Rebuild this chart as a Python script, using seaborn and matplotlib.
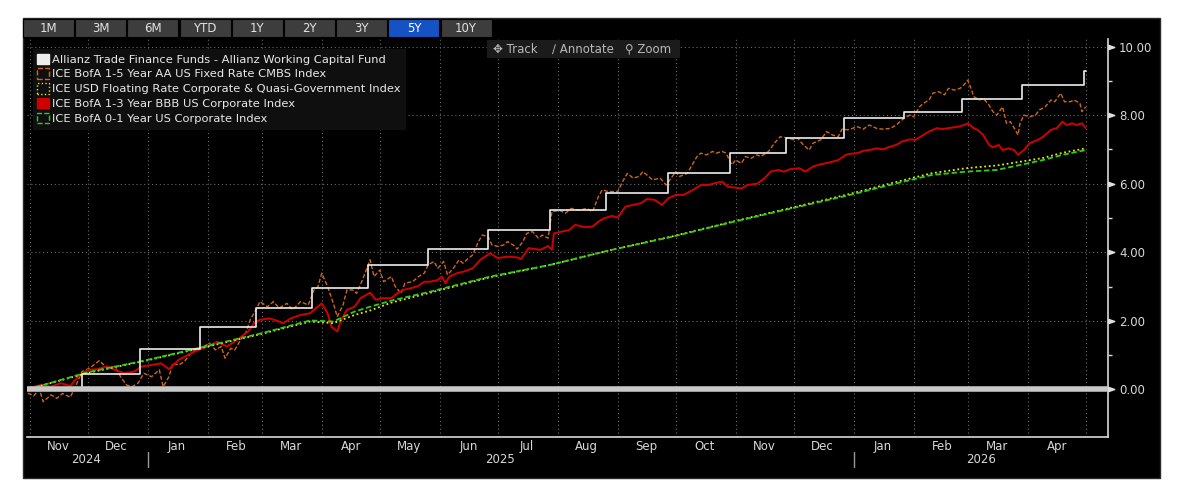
import numpy as np
import pandas as pd
import matplotlib
matplotlib.use("Agg")
import matplotlib.pyplot as plt
import matplotlib.dates as mdates
from matplotlib.path import Path
from matplotlib.patches import Patch, Rectangle
from matplotlib import font_manager
import seaborn as sns

# -------------------------------
# Data (cumulative total return, %), day offsets counted from 2024-11-01
start = pd.Timestamp("2024-11-01")

fund_days = [-1, 27, 57, 88, 117, 146, 175, 206, 237, 269,
             298, 330, 362, 391, 421, 452, 482, 513, 545, 546]
fund_vals = [0.00, 0.45, 1.17, 1.81, 2.38, 2.96, 3.64, 4.10, 4.64, 5.22,
             5.73, 6.30, 6.88, 7.33, 7.91, 8.08, 8.47, 8.88, 9.29, 9.29]

cmbs_days = [-1, 2, 5, 7, 11, 14, 17, 21, 24, 27,
             31, 36, 40, 44, 47, 50, 53, 56, 59, 63,
             67, 69, 72, 74, 77, 80, 82, 85, 90, 93,
             96, 99, 101, 104, 106, 109, 112, 114, 117, 119,
             123, 126, 129, 133, 136, 140, 144, 147, 149, 151,
             154, 157, 159, 162, 164, 167, 169, 172, 176, 178,
             181, 183, 187, 189, 192, 194, 198, 201, 204, 206,
             209, 211, 214, 216, 219, 222, 224, 227, 229, 232,
             234, 237, 239, 242, 245, 247, 250, 252, 255, 257,
             260, 263, 265, 268, 270, 274, 277, 280, 284, 288,
             291, 294, 296, 299, 304, 307, 309, 312, 315, 317,
             320, 322, 326, 329, 331, 334, 336, 340, 342, 345,
             347, 350, 353, 355, 358, 360, 363, 365, 368, 370,
             373, 376, 378, 382, 385, 388, 392, 395, 397, 400,
             403, 405, 409, 412, 415, 418, 420, 423, 428, 431,
             434, 438, 441, 445, 448, 451, 455, 457, 460, 462,
             465, 467, 470, 473, 475, 478, 481, 483, 485, 487,
             488, 491, 493, 496, 498, 500, 503, 505, 507, 509,
             511, 512, 514, 517, 520, 522, 525, 528, 530, 533,
             535, 538, 540, 543, 544, 546]
cmbs_vals = [-0.11, -0.19, 0.00, -0.36, -0.16, -0.26, -0.12, -0.23, 0.13, 0.52,
             0.62, 0.84, 0.62, 0.67, 0.37, 0.13, 0.08, 0.18, 0.47, 0.37,
             0.57, 0.08, 0.37, 0.76, 0.71, 0.81, 0.96, 1.15, 1.25, 1.35,
             1.15, 1.25, 0.91, 1.20, 1.15, 1.44, 1.69, 2.03, 2.32, 2.56,
             2.41, 2.56, 2.37, 2.51, 2.32, 2.56, 2.46, 2.90, 2.99, 3.39,
             3.00, 2.51, 2.12, 2.46, 2.90, 2.90, 2.80, 3.19, 3.78, 3.29,
             3.48, 3.14, 3.29, 3.00, 2.80, 3.10, 3.14, 3.29, 3.39, 3.63,
             3.73, 3.53, 3.73, 3.34, 3.53, 3.78, 3.68, 3.83, 3.92, 4.31,
             4.50, 4.46, 4.21, 4.17, 4.21, 4.31, 4.21, 4.09, 4.31, 4.55,
             4.60, 4.41, 4.50, 4.41, 5.18, 5.22, 5.14, 5.28, 5.22, 5.28,
             5.18, 5.62, 5.82, 5.77, 5.77, 6.11, 6.30, 6.16, 6.21, 6.35,
             6.21, 6.11, 6.16, 5.96, 6.11, 6.35, 6.21, 6.30, 6.50, 6.79,
             6.89, 6.84, 6.94, 6.89, 6.94, 6.89, 6.55, 6.69, 6.59, 6.79,
             6.74, 6.84, 6.79, 6.94, 7.18, 7.37, 7.33, 7.28, 7.33, 7.13,
             6.98, 7.18, 7.28, 7.52, 7.42, 7.37, 7.59, 7.57, 7.66, 7.59,
             7.71, 7.61, 7.59, 7.61, 7.71, 7.86, 8.00, 7.95, 8.24, 8.34,
             8.44, 8.64, 8.68, 8.59, 8.78, 8.73, 8.78, 8.88, 9.02, 8.73,
             8.54, 8.44, 8.49, 8.29, 8.10, 8.00, 8.24, 7.76, 7.81, 7.62,
             7.42, 7.76, 8.00, 7.95, 8.00, 8.15, 8.24, 8.44, 8.39, 8.64,
             8.39, 8.39, 8.44, 8.34, 8.10, 8.24]

bbb_days = [-1, 6, 11, 16, 21, 25, 30, 35, 40, 44,
            49, 54, 58, 63, 68, 72, 77, 82, 87, 92,
            97, 102, 107, 113, 116, 119, 124, 128, 131, 135,
            140, 145, 148, 151, 154, 156, 159, 161, 164, 168,
            171, 176, 179, 182, 187, 190, 193, 197, 201, 204,
            207, 211, 213, 215, 217, 221, 224, 229, 233, 238,
            242, 247, 252, 254, 258, 264, 268, 270, 271, 275,
            279, 282, 287, 291, 294, 297, 301, 304, 308, 312,
            316, 319, 323, 327, 330, 334, 338, 343, 347, 351,
            354, 358, 361, 364, 368, 371, 376, 380, 383, 387,
            390, 393, 398, 401, 405, 408, 411, 415, 418, 422,
            424, 428, 431, 434, 438, 441, 445, 448, 451, 455,
            458, 462, 465, 469, 472, 475, 480, 483, 485, 488,
            490, 493, 496, 498, 501, 503, 506, 509, 511, 514,
            517, 521, 524, 528, 531, 534, 536, 539, 541, 544,
            546]
bbb_vals = [0.03, 0.13, 0.08, 0.18, 0.10, 0.37, 0.57, 0.59, 0.67, 0.57,
            0.47, 0.52, 0.67, 0.71, 0.76, 0.59, 0.86, 1.01, 1.15, 1.25,
            1.39, 1.25, 1.44, 1.69, 1.93, 2.03, 2.07, 2.00, 1.93, 2.07,
            2.17, 2.22, 2.37, 2.51, 2.22, 1.83, 1.69, 2.03, 2.32, 2.41,
            2.66, 2.82, 2.61, 2.66, 2.66, 2.80, 2.90, 2.95, 3.02, 3.14,
            3.14, 3.19, 3.29, 3.10, 3.29, 3.39, 3.43, 3.53, 3.78, 3.97,
            3.83, 3.87, 3.85, 3.80, 4.12, 4.07, 4.18, 4.07, 4.55, 4.60,
            4.65, 4.80, 4.73, 4.75, 4.89, 4.99, 5.06, 5.01, 5.33, 5.38,
            5.43, 5.55, 5.53, 5.38, 5.57, 5.67, 5.67, 5.82, 5.96, 5.96,
            6.01, 6.06, 5.91, 5.89, 5.86, 5.96, 6.00, 6.16, 6.35, 6.40,
            6.35, 6.42, 6.45, 6.35, 6.50, 6.55, 6.59, 6.64, 6.69, 6.84,
            6.87, 6.89, 6.96, 6.98, 7.03, 7.00, 7.08, 7.13, 7.23, 7.29,
            7.28, 7.42, 7.52, 7.62, 7.59, 7.62, 7.66, 7.71, 7.76, 7.62,
            7.57, 7.42, 7.13, 7.06, 7.13, 6.98, 7.03, 6.98, 6.84, 6.98,
            7.18, 7.27, 7.37, 7.57, 7.62, 7.81, 7.71, 7.76, 7.71, 7.76,
            7.62]

short_days = [-1, 30, 61, 92, 120, 145, 157, 168, 176, 187, 207, 238, 269,
              301, 332, 364, 394, 424, 446, 466, 484, 500, 510, 524, 534, 546]
frn_vals = [0.00, 0.48, 0.85, 1.25, 1.62, 1.98, 1.93, 2.17, 2.30, 2.53, 2.82, 3.27, 3.63,
            4.07, 4.46, 4.90, 5.30, 5.70, 6.02, 6.30, 6.45, 6.53, 6.62, 6.75, 6.90, 7.03]
corp01_vals = [0.00, 0.50, 0.86, 1.27, 1.64, 2.01, 1.98, 2.27, 2.41, 2.59, 2.85, 3.29, 3.63,
               4.07, 4.45, 4.89, 5.28, 5.67, 5.98, 6.25, 6.35, 6.40, 6.52, 6.69, 6.84, 6.98]

series_names = ["Allianz Trade Finance Funds - Allianz Working Capital Fund",
                "ICE BofA 1-5 Year AA US Fixed Rate CMBS Index",
                "ICE USD Floating Rate Corporate & Quasi-Government Index",
                "ICE BofA 1-3 Year BBB US Corporate Index",
                "ICE BofA 0-1 Year US Corporate Index"]
range_buttons = ["1M", "3M", "6M", "YTD", "1Y", "2Y", "3Y", "5Y", "10Y"]
selected_button = "5Y"
y_ticks = [0, 2, 4, 6, 8, 10]


def to_frame(days, vals):
    return pd.DataFrame({"date": start + pd.to_timedelta(days, unit="D"), "value": vals})


fund_df = to_frame(fund_days, fund_vals)
cmbs_df = to_frame(cmbs_days, cmbs_vals)
bbb_df = to_frame(bbb_days, bbb_vals)
frn_df = to_frame(short_days, frn_vals)
corp01_df = to_frame(short_days, corp01_vals)

# -------------------------------
# Style
sns.set_style("dark")
names = {f.name for f in font_manager.fontManager.ttflist}
narrow = "Liberation Sans Narrow" if "Liberation Sans Narrow" in names else "DejaVu Sans"
plt.rcParams["font.family"] = [narrow, "DejaVu Sans"]

W, H = 1191, 501
fig = plt.figure(figsize=(W / 100, H / 100), dpi=100, facecolor="white")

# black terminal panel (behind the axes)
fig.patches.append(Rectangle((23 / W, (H - 478) / H), 1137 / W, 460 / H,
                             transform=fig.transFigure, facecolor="black",
                             edgecolor="#2a2a2a", lw=1, zorder=-5))

ax = fig.add_axes([27 / W, (H - 436.7) / H, 1081 / W, 397.4 / H])
ax.set_facecolor("black")

c_orange = "#cf661c"
c_red = "#d10000"
c_yellow = "#e6e61e"
c_green = "#2ecc1a"
c_white = "#ededed"

sns.lineplot(data=cmbs_df, x="date", y="value", ax=ax, color=c_orange,
             linewidth=1.0, linestyle=(0, (3, 1.5)), errorbar=None, zorder=3)
sns.lineplot(data=bbb_df, x="date", y="value", ax=ax, color=c_red,
             linewidth=1.4, errorbar=None, zorder=4)
sns.lineplot(data=frn_df, x="date", y="value", ax=ax, color=c_yellow,
             linewidth=1.3, linestyle=(0, (1, 1.5)), errorbar=None, zorder=5)
sns.lineplot(data=corp01_df, x="date", y="value", ax=ax, color=c_green,
             linewidth=1.3, linestyle=(0, (3, 1.5)), errorbar=None, zorder=5)
sns.lineplot(data=fund_df, x="date", y="value", ax=ax, color=c_white,
             linewidth=1.2, drawstyle="steps-post", errorbar=None, zorder=6)

ax.axhline(0, color="#c8c8c8", lw=4, zorder=7)

# -------------------------------
# Axes
x_left = start - pd.Timedelta(days=1.4)
x_right = start + pd.Timedelta(days=557.5)
ax.set_xlim(x_left, x_right)
ax.set_ylim(-1.38, 10.21)
ax.set_xlabel("")
ax.set_ylabel("")

ax.yaxis.tick_right()
ax.set_yticks(y_ticks)
ax.set_yticks([1, 3, 5, 7, 9], minor=True)
ax.set_yticklabels([f"{v:.2f}" for v in y_ticks])
ax.tick_params(axis="y", which="major", colors="#d8d8d8", labelsize=8.5,
               length=5, width=1, pad=3, direction="out")
ax.tick_params(axis="y", which="minor", colors="#d8d8d8", length=3, width=1,
               direction="out")
# Bloomberg-style small caret just right of the axis line
caret = Path([(0, -0.7), (2, 0), (0, 0.7), (0, -0.7)],
             [Path.MOVETO, Path.LINETO, Path.LINETO, Path.CLOSEPOLY])
for t in ax.yaxis.get_major_ticks():
    t.tick2line.set_marker(caret)
    t.tick2line.set_markersize(9)
    t.tick2line.set_markerfacecolor("#e0e0e0")
    t.tick2line.set_markeredgecolor("#e0e0e0")

ax.xaxis.set_major_locator(mdates.MonthLocator())
ax.xaxis.set_major_formatter(plt.NullFormatter())
ax.xaxis.set_minor_locator(mdates.MonthLocator(bymonthday=16))
ax.xaxis.set_minor_formatter(mdates.DateFormatter("%b"))
ax.tick_params(axis="x", which="major", colors="#d8d8d8", length=3, width=1,
               direction="out")
ax.tick_params(axis="x", which="minor", colors="#d8d8d8", length=0, labelsize=8.5,
               pad=2.5)

ax.grid(True, which="major", color="#6a6a6a", linestyle=(0, (1, 2.5)), lw=0.8)
ax.grid(False, which="minor")

for side in ["top", "left"]:
    ax.spines[side].set_visible(False)
for side in ["bottom", "right"]:
    ax.spines[side].set_visible(True)
    ax.spines[side].set_color("#d8d8d8")
    ax.spines[side].set_linewidth(1.2)

# year labels and separators under the month labels
trans = ax.get_xaxis_transform()
years = [(x_left, pd.Timestamp("2024-12-31"), "2024"),
         (pd.Timestamp("2025-01-01"), pd.Timestamp("2025-12-31"), "2025"),
         (pd.Timestamp("2026-01-01"), x_right, "2026")]
for a, b, label in years:
    mid = a + (b - a) / 2
    ax.text(mid, -0.0586, label, transform=trans, ha="center", va="center",
            color="#d8d8d8", fontsize=8.5, clip_on=False)
for sep in ["2025-01-01", "2026-01-01"]:
    ax.plot([pd.Timestamp(sep)] * 2, [-0.0385, -0.076], transform=trans,
            color="#9a9a9a", lw=1, clip_on=False)

# -------------------------------
# Legend
handles = [Patch(facecolor=c_white, edgecolor=c_white),
           Patch(facecolor="none", edgecolor=c_orange, linestyle="--", lw=1),
           Patch(facecolor="none", edgecolor=c_yellow, linestyle=":", lw=1),
           Patch(facecolor=c_red, edgecolor=c_red),
           Patch(facecolor="none", edgecolor=c_green, linestyle="--", lw=1)]
leg = ax.legend(handles, series_names, loc="upper left", bbox_to_anchor=(0.0, 0.99),
                frameon=True, facecolor="#0f0f0f", edgecolor="#0f0f0f", framealpha=1,
                fontsize=8.25, labelcolor="#e8e8e8", handlelength=1.0, handleheight=1.0,
                handletextpad=0.3, labelspacing=0.33, borderpad=0.4, fancybox=False)
leg.set_zorder(10)

# -------------------------------
# Range buttons and chart tools
bx = 23
for lab in range_buttons:
    sel = lab == selected_button
    fig.patches.append(Rectangle((bx / W, (H - 37) / H), 51 / W, 18 / H,
                                 transform=fig.transFigure,
                                 facecolor="#1553c4" if sel else "#3d3d3d",
                                 edgecolor="black", lw=0.8, zorder=2))
    fig.text((bx + 25.5) / W, (H - 28) / H, lab, ha="center", va="center",
             color="white" if sel else "#e2e2e2", fontsize=8.5, zorder=3)
    bx += 52.2

fig.patches.append(Rectangle((487 / W, (H - 58) / H), 193 / W, 18 / H,
                             transform=fig.transFigure, facecolor="#1b1b1b",
                             edgecolor="none", zorder=2))
for tx, label in [(493, "\u2725 Track"), (552, "\u2215 Annotate"), (625, "\u26b2 Zoom")]:
    fig.text(tx / W, (H - 49) / H, label, ha="left", va="center", color="#b8b8b8",
             fontsize=8.5, family=[narrow, "DejaVu Sans"], zorder=3)

fig.savefig("out.png", dpi=100, facecolor="white")
